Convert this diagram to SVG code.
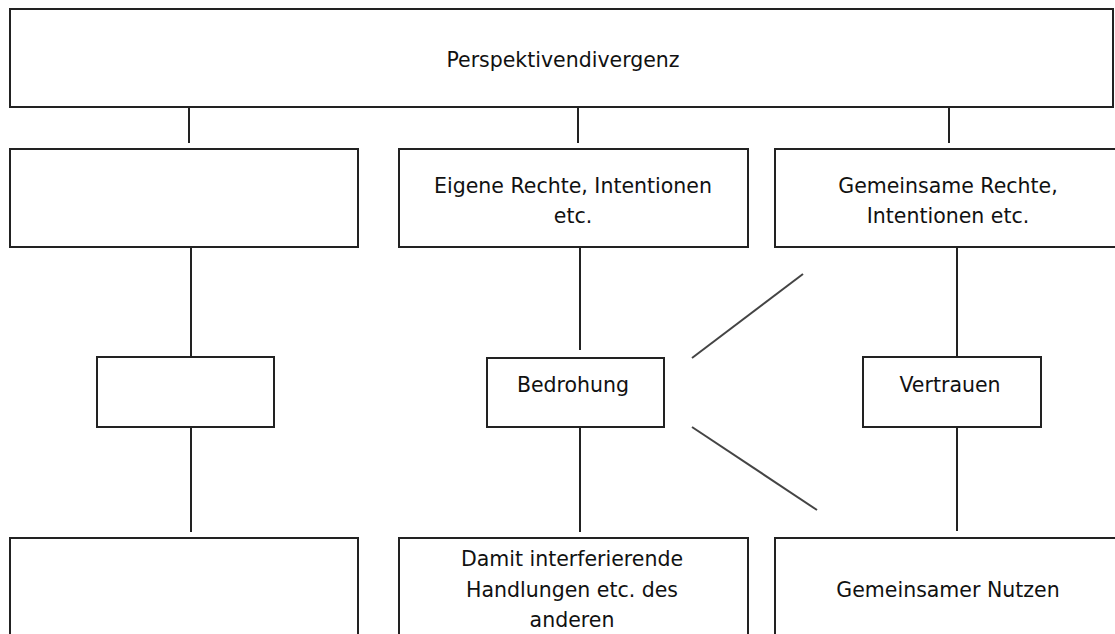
<svg xmlns="http://www.w3.org/2000/svg" width="1115" height="634" viewBox="0 0 1115 634">
<style>
.box{fill:#fff;stroke:#222;stroke-width:2}
.ln{stroke:#222;stroke-width:2;fill:none}
.dg{stroke:#444;stroke-width:2;fill:none}
text{font-family:"DejaVu Sans",Verdana,sans-serif;font-size:20.5px;fill:#111;text-anchor:middle}
</style>
<rect width="1115" height="634" fill="#fff"/>
<g id="connectors">
<line class="ln" x1="189" y1="107" x2="189" y2="143"/>
<line class="ln" x1="578" y1="107" x2="578" y2="143"/>
<line class="ln" x1="949" y1="107" x2="949" y2="143"/>
<line class="ln" x1="191" y1="247" x2="191" y2="357"/>
<line class="ln" x1="580" y1="247" x2="580" y2="350"/>
<line class="ln" x1="957" y1="247" x2="957" y2="357"/>
<line class="ln" x1="191" y1="427" x2="191" y2="532"/>
<line class="ln" x1="580" y1="427" x2="580" y2="532"/>
<line class="ln" x1="957" y1="427" x2="957" y2="531"/>
<line class="dg" x1="692" y1="358" x2="803" y2="274"/>
<line class="dg" x1="692" y1="427" x2="817" y2="510"/>
</g>
<g id="n-top"><rect class="box" x="10" y="9" width="1103" height="98"/><text x="563" y="67">Perspektivendivergenz</text></g>
<g id="n-r2-left"><rect class="box" x="10" y="149" width="348" height="98"/></g>
<g id="n-r2-mid"><rect class="box" x="399" y="149" width="349" height="98"/><text x="573" y="193">Eigene Rechte, Intentionen</text><text x="573" y="223">etc.</text></g>
<g id="n-r2-right"><rect class="box" x="775" y="149" width="350" height="98"/><text x="948" y="193">Gemeinsame Rechte,</text><text x="948" y="223">Intentionen etc.</text></g>
<g id="n-r3-left"><rect class="box" x="97" y="357" width="177" height="70"/></g>
<g id="n-r3-mid"><rect class="box" x="487" y="358" width="177" height="69"/><text x="573" y="392">Bedrohung</text></g>
<g id="n-r3-right"><rect class="box" x="863" y="357" width="178" height="70"/><text x="950" y="392">Vertrauen</text></g>
<g id="n-r4-left"><rect class="box" x="10" y="538" width="348" height="110"/></g>
<g id="n-r4-mid"><rect class="box" x="399" y="538" width="349" height="110"/><text x="572" y="566">Damit interferierende</text><text x="572" y="597">Handlungen etc. des</text><text x="572" y="627">anderen</text></g>
<g id="n-r4-right"><rect class="box" x="775" y="538" width="350" height="110"/><text x="948" y="597">Gemeinsamer Nutzen</text></g>
</svg>
